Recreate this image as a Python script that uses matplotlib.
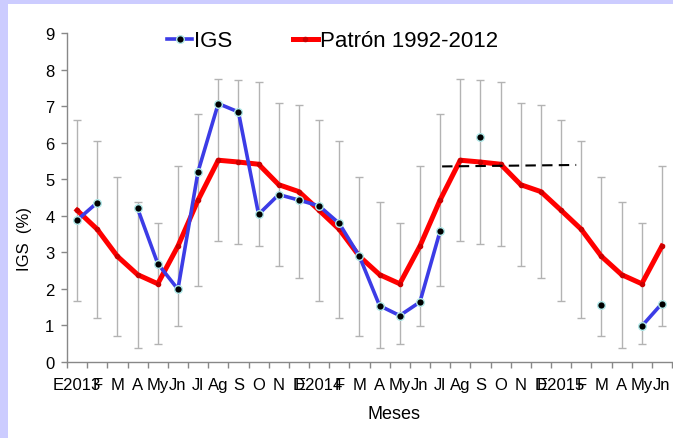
import numpy as np
import matplotlib
matplotlib.use("Agg")
import matplotlib.pyplot as plt
from matplotlib.patches import Rectangle

plt.rcParams['font.family'] = ['Liberation Sans', 'DejaVu Sans']

meses = ['E2013', 'F', 'M', 'A', 'My', 'Jn', 'Jl', 'Ag', 'S', 'O', 'N', 'D',
         'E2014', 'F', 'M', 'A', 'My', 'Jn', 'Jl', 'Ag', 'S', 'O', 'N', 'D',
         'E2015', 'F', 'M', 'A', 'My', 'Jn']

nan = np.nan
igs = [3.88, 4.36, nan, 4.20, 2.69, 1.99, 5.21, 7.07, 6.84, 4.04, 4.58, 4.43,
       4.27, 3.79, 2.89, 1.54, 1.27, 1.64, 3.58, nan, 6.16, nan, nan, nan,
       nan, nan, 1.56, nan, 0.98, 1.60]

patron = [4.15, 3.63, 2.89, 2.39, 2.14, 3.17, 4.43, 5.52, 5.47, 5.41, 4.85, 4.66,
          4.15, 3.63, 2.89, 2.39, 2.14, 3.17, 4.43, 5.52, 5.47, 5.41, 4.85, 4.66,
          4.15, 3.63, 2.89, 2.39, 2.14, 3.17]

error = [2.48, 2.42, 2.17, 2.00, 1.65, 2.18, 2.36, 2.21, 2.24, 2.24, 2.23, 2.37,
         2.48, 2.42, 2.17, 2.00, 1.65, 2.18, 2.36, 2.21, 2.24, 2.24, 2.23, 2.37,
         2.48, 2.42, 2.17, 2.00, 1.65, 2.18]

# linea discontinua (promedio)
linea_x = [18.1, 24.75]
linea_y = [5.35, 5.39]

x = np.arange(len(meses))

fig = plt.figure(figsize=(6.73, 4.39), dpi=100)
fig.patches.append(Rectangle((0, 1 - 5 / 439), 1, 5 / 439, transform=fig.transFigure,
                             facecolor='#ccccff', edgecolor='none', zorder=0))
fig.patches.append(Rectangle((0, 0), 8 / 673, 1, transform=fig.transFigure,
                             facecolor='#ccccff', edgecolor='none', zorder=0))

ax = fig.add_axes([67 / 673, 1 - 363 / 439, 605 / 673, 329 / 439])

ax.errorbar(x, patron, yerr=error, fmt='none', ecolor='#b3b3b3', elinewidth=1,
            capsize=3, capthick=1, zorder=1)
ax.plot(x, patron, color='#ff0000', lw=3.6, marker='o', ms=3,
        mfc='#cc0000', mec='#cc0000', zorder=3, label='Patrón 1992-2012')
ax.plot(x, igs, color='#3c3ce6', lw=2.6, marker='o', ms=5.5,
        mfc='black', mec='#b0e8e8', mew=1, zorder=4, label='IGS')
ax.plot(linea_x, linea_y, color='black', lw=1.5, ls=(0, (5, 3)), zorder=5)

ax.set_xlim(-0.5, len(meses) - 0.5)
ax.set_ylim(0, 9)
ax.set_yticks(range(0, 10))

ax.set_xticks(np.arange(-0.5, len(meses) + 0.5, 1))
ax.set_xticklabels([])
ax.set_xticks(x, minor=True)
ax.set_xticklabels(meses, minor=True)
ax.tick_params(axis='x', which='minor', length=0, pad=11, labelsize=12)
ax.tick_params(axis='x', which='major', length=4, color='#888888', width=1)
ax.tick_params(axis='y', length=4, color='#888888', width=1, labelsize=12, pad=5)

for s in ['top', 'right']:
    ax.spines[s].set_visible(False)
for s in ['left', 'bottom']:
    ax.spines[s].set_color('#888888')
    ax.spines[s].set_linewidth(1)

ax.set_xlabel('Meses', fontsize=13)
ax.xaxis.set_label_coords(0.541, -0.13)
ax.set_ylabel('IGS  (%)', fontsize=12)
ax.yaxis.set_label_coords(-0.058, 0.377)

h, l = ax.get_legend_handles_labels()
ax.legend([h[1], h[0]], [l[1], l[0]], loc='center', bbox_to_anchor=(0.439, 0.976),
          ncol=2, frameon=False, fontsize=16, handlelength=1.13, handletextpad=0.1,
          columnspacing=2.7, borderaxespad=0, borderpad=0)

fig.savefig('out.png', dpi=100, facecolor='white')
